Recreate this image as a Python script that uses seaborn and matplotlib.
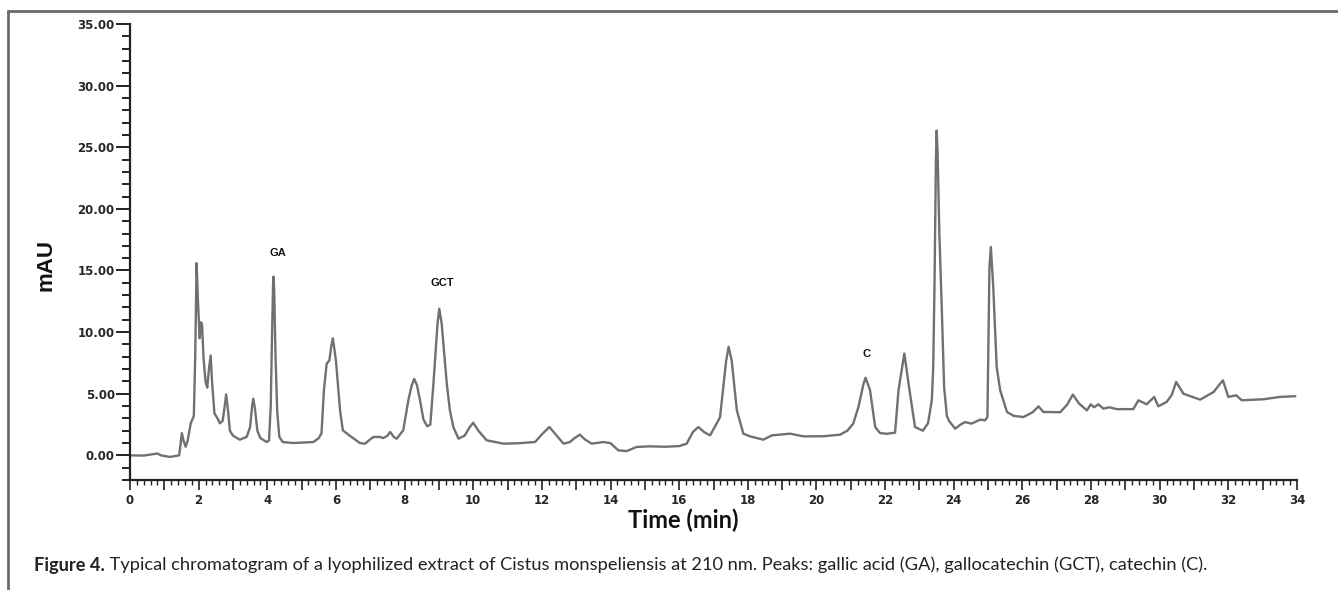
import numpy as np
import pandas as pd
import matplotlib
matplotlib.use("Agg")
import matplotlib.pyplot as plt
from matplotlib.ticker import MultipleLocator, FuncFormatter
from matplotlib.lines import Line2D
import seaborn as sns

# ---- data ----
time_min = [
    0.00, 0.40, 0.80, 0.90, 1.17, 1.43, 1.47, 1.51, 1.56, 1.62, 1.68, 1.77, 1.86, 1.90, 1.94, 1.98,
    2.03, 2.07, 2.10, 2.14, 2.20, 2.25, 2.30, 2.35, 2.39, 2.46, 2.55, 2.62, 2.70, 2.76, 2.80, 2.85,
    2.91, 3.00, 3.20, 3.40, 3.50, 3.55, 3.59, 3.64, 3.71, 3.80, 3.98, 4.05, 4.10, 4.14, 4.17, 4.18,
    4.20, 4.24, 4.29, 4.35, 4.45, 4.76, 5.34, 5.50, 5.58, 5.65, 5.73, 5.81, 5.86, 5.91, 6.00, 6.07,
    6.12, 6.20, 6.40, 6.70, 6.85, 7.00, 7.09, 7.28, 7.38, 7.50, 7.58, 7.68, 7.77, 7.96, 8.11, 8.20,
    8.28, 8.36, 8.45, 8.55, 8.66, 8.75, 8.84, 8.96, 9.01, 9.08, 9.23, 9.32, 9.42, 9.57, 9.75, 9.90,
    10.00, 10.15, 10.39, 10.88, 11.30, 11.80, 12.00, 12.22, 12.40, 12.63, 12.82, 12.95, 13.11, 13.25,
    13.45, 13.79, 13.99, 14.23, 14.47, 14.76, 15.15, 15.60, 16.00, 16.22, 16.40, 16.56, 16.72, 16.90,
    17.09, 17.19, 17.37, 17.44, 17.53, 17.68, 17.87, 18.07, 18.45, 18.70, 19.23, 19.62, 20.20, 20.69,
    20.90, 21.07, 21.22, 21.37, 21.43, 21.56, 21.71, 21.85, 22.05, 22.29, 22.39, 22.56, 22.71, 22.87,
    23.10, 23.25, 23.36, 23.40, 23.44, 23.48, 23.50, 23.53, 23.58, 23.65, 23.72, 23.80, 23.86, 24.04,
    24.20, 24.33, 24.52, 24.77, 24.91, 24.98, 25.04, 25.08, 25.15, 25.25, 25.35, 25.55, 25.75, 26.03,
    26.30, 26.47, 26.61, 27.10, 27.30, 27.47, 27.65, 27.88, 27.99, 28.09, 28.21, 28.36, 28.53, 28.75,
    29.23, 29.38, 29.62, 29.84, 29.96, 30.20, 30.35, 30.48, 30.69, 31.18, 31.57, 31.84, 32.00, 32.23,
    32.39, 33.02, 33.50, 33.95,
]
absorbance_mau = [
    0.00, -0.02, 0.15, 0.00, -0.13, 0.00, 0.80, 1.80, 1.20, 0.70, 1.20, 2.60, 3.20, 8.00, 15.60, 12.50,
    9.50, 10.80, 10.60, 8.00, 6.00, 5.50, 7.00, 8.10, 6.00, 3.40, 3.00, 2.60, 2.80, 4.00, 4.95, 3.80,
    2.00, 1.60, 1.27, 1.50, 2.30, 3.80, 4.60, 3.80, 2.00, 1.40, 1.08, 1.20, 4.00, 10.00, 14.00, 14.50,
    13.50, 8.00, 3.50, 1.50, 1.08, 1.00, 1.08, 1.40, 1.80, 5.30, 7.45, 7.70, 8.80, 9.50, 7.70, 5.30,
    3.65, 2.03, 1.60, 1.00, 0.95, 1.30, 1.49, 1.49, 1.40, 1.60, 1.90, 1.50, 1.35, 2.03, 4.47, 5.60,
    6.20, 5.70, 4.47, 2.90, 2.36, 2.50, 5.80, 10.70, 11.90, 10.70, 5.80, 3.65, 2.30, 1.35, 1.60, 2.30,
    2.65, 2.00, 1.22, 0.95, 0.98, 1.08, 1.70, 2.30, 1.70, 0.95, 1.08, 1.40, 1.68, 1.30,
    0.95, 1.08, 1.00, 0.40, 0.35, 0.68, 0.73, 0.70, 0.75, 0.95, 1.90, 2.30, 1.90, 1.62,
    2.57, 3.10, 7.70, 8.80, 7.70, 3.65, 1.76, 1.54, 1.27, 1.62, 1.76, 1.54, 1.55, 1.68,
    2.00, 2.57, 3.90, 5.80, 6.30, 5.30, 2.30, 1.81, 1.75, 1.84, 5.30, 8.26, 5.30, 2.30,
    2.00, 2.60, 4.47, 7.00, 14.00, 24.00, 26.35, 24.50, 18.00, 12.00, 5.50, 3.20, 2.80, 2.17,
    2.50, 2.70, 2.57, 2.90, 2.84, 3.10, 15.30, 16.90, 13.70, 7.20, 5.30, 3.52, 3.20, 3.11,
    3.50, 3.98, 3.52, 3.50, 4.10, 4.93, 4.20, 3.65, 4.14, 3.90, 4.14, 3.79, 3.90, 3.75,
    3.75, 4.47, 4.14, 4.74, 3.98, 4.33, 4.90, 5.96, 5.00, 4.52, 5.14, 6.09, 4.74, 4.87,
    4.47, 4.55, 4.74, 4.80,
]
peak_labels = ["GA", "GCT", "C"]
peak_label_x = [4.31, 9.09, 21.45]
peak_label_y = [16.4, 14.0, 8.2]

x_label = "Time (min)"
y_label = "mAU"
caption_bold = "Figure 4."
caption_text = (" Typical chromatogram of a lyophilized extract of Cistus monspeliensis at 210 nm. "
                "Peaks: gallic acid (GA), gallocatechin (GCT), catechin (C).")

df = pd.DataFrame({"time": time_min, "mau": absorbance_mau})

# ---- style ----
sns.set_style("ticks")
plt.rcParams["font.family"] = ["DejaVu Sans"]
cap_font = ["Lato", "DejaVu Sans"]

fig = plt.figure(figsize=(13.38, 5.90), dpi=100)
ax = fig.add_axes([130 / 1338, 1 - 480 / 590, (1297 - 130) / 1338, (480 - 24) / 590])

sns.lineplot(data=df, x="time", y="mau", ax=ax, color="#707070", linewidth=1.7,
             estimator=None, sort=False)

ax.set_xlim(0, 34)
ax.set_ylim(-2, 35)
sns.despine(ax=ax)
for s in ("left", "bottom"):
    ax.spines[s].set_linewidth(1.6)
    ax.spines[s].set_color("#222222")

ax.yaxis.set_major_locator(MultipleLocator(5))
ax.yaxis.set_minor_locator(MultipleLocator(1))
ax.yaxis.set_major_formatter(FuncFormatter(lambda v, p: f"{v:.2f}"))
ax.xaxis.set_major_locator(MultipleLocator(1))
ax.xaxis.set_minor_locator(MultipleLocator(0.2))
ax.xaxis.set_major_formatter(FuncFormatter(lambda v, p: f"{int(round(v))}" if int(round(v)) % 2 == 0 else ""))

ax.tick_params(axis="y", which="major", length=10, width=1.4, pad=1, labelsize=8.5, color="#222222")
ax.tick_params(axis="y", which="minor", length=6, width=1.4, color="#222222")
ax.tick_params(axis="x", which="major", length=7, width=1.2, pad=3, labelsize=8.5, color="#222222")
ax.tick_params(axis="x", which="minor", length=3.5, width=1.0, color="#222222")
for lab in ax.get_xticklabels() + ax.get_yticklabels():
    lab.set_fontweight("bold")

ax.set_xlabel("")
ax.set_ylabel("")
fig.text(683 / 1338, 1 - 520 / 590, x_label, ha="center", va="center", fontsize=17,
         fontweight="bold", family=cap_font, color="#111111")
fig.text(46 / 1338, 1 - 265 / 590, y_label, ha="center", va="center", rotation=90,
         fontsize=16, family=["Liberation Sans", "DejaVu Sans"], fontweight="bold", color="#111111")

for lab, lx, ly in zip(peak_labels, peak_label_x, peak_label_y):
    ax.text(lx, ly, lab, ha="center", va="center", fontsize=8, fontweight="bold",
            family=["Liberation Sans", "DejaVu Sans"], color="#111111")

# caption: fit its width to the reference span (x 34 .. 1213 px)
renderer = fig.canvas.get_renderer()
fs = 14.0
t1 = fig.text(34 / 1338, 1 - 565 / 590, caption_bold, ha="left", va="center", fontsize=fs,
              fontweight="bold", family=cap_font, color="#222222")
t2 = fig.text(0.5, 1 - 565 / 590, caption_text, ha="left", va="center",
              fontsize=fs, family=cap_font, color="#222222")
w = t1.get_window_extent(renderer).width + t2.get_window_extent(renderer).width
fs = fs * (1213 - 34) / w
t1.set_fontsize(fs)
t2.set_fontsize(fs)
bb = t1.get_window_extent(renderer)
t2.set_x(bb.x1 / fig.bbox.width)

# frame lines of the figure panel
fig.add_artist(Line2D([8 / 1338, 1.0], [1 - 11 / 590, 1 - 11 / 590], transform=fig.transFigure,
                      color="#6a6a6a", linewidth=2))
fig.add_artist(Line2D([8 / 1338, 8 / 1338], [0.0, 1 - 11 / 590], transform=fig.transFigure,
                      color="#6a6a6a", linewidth=2))

fig.savefig("out.png", dpi=100)
